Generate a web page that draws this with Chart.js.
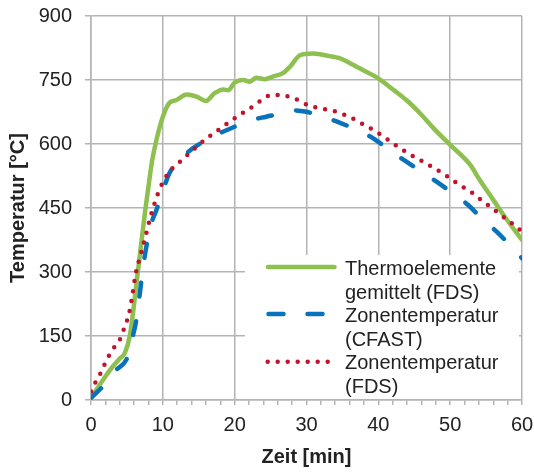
<!DOCTYPE html>
<html>
<head>
<meta charset="utf-8">
<script src="https://cdn.jsdelivr.net/npm/chart.js@4"></script>
<style>
  body { margin: 0; background: #fff; }
</style>
</head>
<body>
<canvas id="chart" width="534" height="474"></canvas>
<script>
// Thermoelemente gemittelt (FDS)
const greenTime = [0, 1, 2, 3, 4, 4.7, 5.4, 6.5, 7.5, 8, 8.5, 9.1, 10, 10.9, 11.9, 13.3, 14.7, 16, 17.2, 18.4, 19.1, 20, 21.2, 22.1, 23, 24.2, 25.3, 26.7, 27.7, 29.1, 30.9, 33.2, 34.6, 36, 37.9, 40, 42.1, 43.9, 45.8, 47.9, 50, 52.8, 54.1, 56, 58, 60];
const greenTemp = [5, 30, 55, 78, 97, 110, 150, 297, 438, 500, 560, 609, 664, 696, 703, 716, 711, 701, 719, 728, 726, 744, 750, 746, 755, 752, 758, 766, 781, 808, 812, 806, 801, 790, 773, 754, 727, 703, 672, 633, 598, 551, 516, 469, 420, 375];

// Zonentemperatur (CFAST)
const blueTime = [0, 1.6, 3.5, 5.1, 5.8, 6.3, 6.8, 7.2, 7.7, 8.4, 9.1, 10.2, 10.9, 13.3, 14.9, 17.4, 19.5, 22.3, 24.4, 27.2, 28.1, 29.8, 32.3, 34.6, 37.4, 39.5, 41.8, 43.7, 46.2, 48.1, 50.4, 52.5, 54.6, 56.5, 58.3, 60];
const blueTemp = [5, 31, 70, 101, 148, 187, 250, 305, 359, 414, 445, 500, 531, 578, 598, 621, 637, 656, 664, 674, 679, 676, 664, 650, 630, 611, 582, 561, 533, 512, 484, 457, 422, 394, 363, 332];

// Zonentemperatur (FDS)
const redTime = [0, 0.6, 1.3, 1.9, 2.5, 3.2, 4, 4.7, 5.3, 5.8, 6.2, 6.9, 7.6, 8.3, 9.1, 9.55, 10.9, 11.9, 12.9, 13.9, 14.9, 16, 17.1, 18.2, 19.3, 20.5, 21.6, 22.8, 23.9, 25.1, 26.5, 27.8, 29.1, 30.3, 31.6, 33, 34.3, 35.6, 36.9, 38.1, 39.3, 40.4, 41.5, 42.7, 43.8, 45, 46.2, 47.4, 48.6, 49.7, 50.9, 52.1, 53.2, 54.3, 55.4, 56.5, 57.5, 58.6, 60];
const redTemp = [20, 41, 62, 84, 104, 123, 141, 172, 203, 250, 294, 340, 384, 431, 473, 494, 535, 551, 566, 582, 596, 612, 625, 639, 652, 666, 678, 691, 705, 715, 715, 709, 701, 690, 685, 680, 675, 666, 656, 644, 633, 621, 608, 594, 582, 570, 559, 547, 535, 523, 509, 496, 484, 469, 455, 441, 428, 414, 395];

const legendLabels = [
  ['Thermoelemente', 'gemittelt (FDS)'],
  ['Zonentemperatur', '(CFAST)'],
  ['Zonentemperatur', '(FDS)']
];

const green = '#8dc04f';
const blue = '#0a72ba';
const red = '#c0142c';
const gridGray = '#b4b4b4';
const textColor = '#222222';
const fontFamily = '"Liberation Sans", Arial, sans-serif';

function toPoints(xs, ys) {
  return xs.map((x, i) => ({ x: x, y: ys[i] }));
}

// Legend box drawn by hand, labels span two lines
const boxLegend = {
  id: 'boxLegend',
  afterDraw(chart) {
    const ctx = chart.ctx;
    ctx.save();
    ctx.fillStyle = '#fff';
    ctx.fillRect(245, 255, 274, 144);

    ctx.lineWidth = 4.5;
    ctx.lineCap = 'round';

    // green solid
    ctx.strokeStyle = green;
    ctx.setLineDash([]);
    ctx.beginPath();
    ctx.moveTo(268, 267);
    ctx.lineTo(334.5, 267);
    ctx.stroke();

    // blue dashed
    ctx.strokeStyle = blue;
    ctx.setLineDash([15, 24]);
    ctx.beginPath();
    ctx.moveTo(268.5, 314);
    ctx.lineTo(322.5, 314);
    ctx.stroke();

    // red dotted
    ctx.strokeStyle = red;
    ctx.setLineDash([0, 10]);
    ctx.beginPath();
    ctx.moveTo(267.7, 361.7);
    ctx.lineTo(330, 361.7);
    ctx.stroke();

    ctx.setLineDash([]);
    ctx.fillStyle = textColor;
    ctx.font = '20px ' + fontFamily;
    ctx.textBaseline = 'alphabetic';
    let y = 275;
    legendLabels.forEach(lines => {
      lines.forEach(line => {
        ctx.fillText(line, 345, y);
        y += 23.6;
      });
    });
    ctx.restore();
  }
};

const ctx = document.getElementById('chart').getContext('2d');
new Chart(ctx, {
  type: 'line',
  data: {
    datasets: [
      {
        label: legendLabels[0].join(' '),
        data: toPoints(greenTime, greenTemp),
        borderColor: green,
        borderWidth: 4.5,
        borderCapStyle: 'round',
        borderJoinStyle: 'round',
        order: 3
      },
      {
        label: legendLabels[1].join(' '),
        data: toPoints(blueTime, blueTemp),
        borderColor: blue,
        borderWidth: 4.5,
        borderDash: [14, 25],
        borderCapStyle: 'round',
        order: 2
      },
      {
        label: legendLabels[2].join(' '),
        data: toPoints(redTime, redTemp),
        borderColor: red,
        borderWidth: 4.5,
        borderDash: [0, 10],
        borderCapStyle: 'round',
        order: 1
      }
    ]
  },
  options: {
    responsive: false,
    animation: false,
    devicePixelRatio: 1,
    parsing: false,
    elements: {
      point: { radius: 0 },
      line: { fill: false, cubicInterpolationMode: 'monotone' }
    },
    layout: { padding: { left: 0, right: 12, top: 16, bottom: 0 } },
    plugins: {
      legend: { display: false },
      tooltip: { enabled: false }
    },
    scales: {
      x: {
        type: 'linear',
        min: 0,
        max: 60,
        // fixed axis box, no extra edge padding for the end labels
        afterFit: s => {
          s.height = 74;
          s.paddingLeft = 0;
          s.paddingRight = 0;
        },
        ticks: {
          stepSize: 2,
          autoSkip: false,
          maxRotation: 0,
          padding: 8,
          color: textColor,
          font: { family: fontFamily, size: 20 },
          callback: v => (v % 10 === 0 ? v : '')
        },
        grid: {
          color: c => (c.tick && c.tick.value % 10 === 0 ? gridGray : 'rgba(0,0,0,0)'),
          tickColor: gridGray,
          tickLength: 5,
          lineWidth: 1.5
        },
        border: { color: gridGray, width: 1.5 },
        title: {
          display: true,
          text: 'Zeit [min]',
          color: textColor,
          font: { family: fontFamily, size: 20, weight: 'bold' },
          padding: { top: 0, bottom: 5 }
        }
      },
      y: {
        min: 0,
        max: 900,
        afterFit: s => {
          s.width = 91;
          s.paddingTop = 0;
          s.paddingBottom = 0;
        },
        ticks: {
          stepSize: 150,
          padding: 13,
          color: textColor,
          font: { family: fontFamily, size: 20 }
        },
        grid: {
          color: gridGray,
          tickColor: gridGray,
          tickLength: 6,
          lineWidth: 1.5
        },
        border: { color: gridGray, width: 1.5 },
        title: {
          display: true,
          text: 'Temperatur [°C]',
          color: textColor,
          font: { family: fontFamily, size: 20, weight: 'bold' },
          padding: { top: 6, bottom: 0 }
        }
      }
    }
  },
  plugins: [boxLegend]
});
</script>
</body>
</html>
